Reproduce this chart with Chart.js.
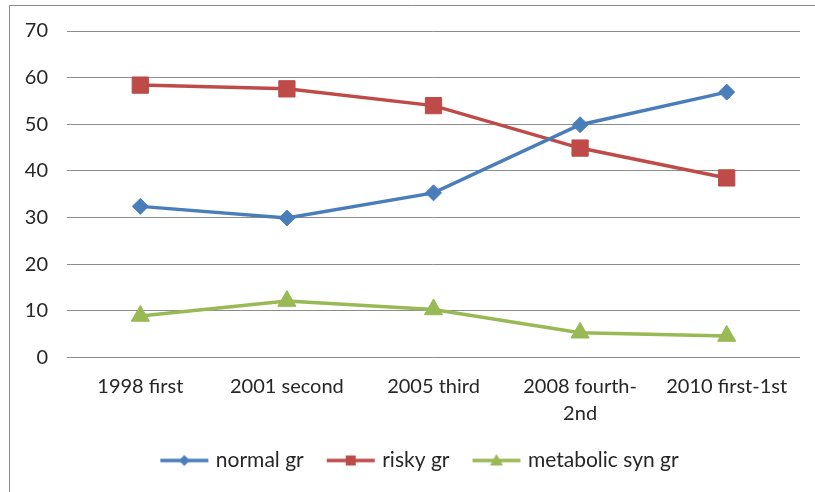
<!DOCTYPE html>
<html>
<head>
<meta charset="utf-8">
<script src="https://cdn.jsdelivr.net/npm/chart.js@4.4.1/dist/chart.umd.min.js"></script>
<style>
  html, body { margin: 0; padding: 0; background: #fff; }
  #wrap { position: absolute; left: 0; top: 0; width: 815px; height: 492px; }
</style>
</head>
<body>
<div id="wrap"><canvas id="chart1"></canvas></div>
<script>
// data
const categories = [['1998 first'], ['2001 second'], ['2005 third'], ['2008 fourth-', '2nd'], ['2010 first-1st']];
const normalGr = [32.4, 29.9, 35.3, 49.9, 56.9];
const riskyGr = [58.4, 57.6, 54.0, 44.9, 38.5];
const metabolicGr = [8.9, 12.1, 10.3, 5.3, 4.6];
const seriesNames = ['normal gr', 'risky gr', 'metabolic syn gr'];
const yTicks = [0, 10, 20, 30, 40, 50, 60, 70];

const BLUE = '#4a7ebb';
const RED = '#be4b48';
const GREEN = '#98b954';
const TEXT = '#262626';
const GRID = '#8c8c8c';

// little legend picture: line with the marker in the middle
function legendIcon(color, shape) {
    const c = document.createElement('canvas');
    c.width = 54;
    c.height = 16;
    const g = c.getContext('2d');
    g.strokeStyle = color;
    g.fillStyle = color;
    g.lineWidth = 3.5;
    g.beginPath();
    g.moveTo(3, 8);
    g.lineTo(51, 8);
    g.stroke();
    g.beginPath();
    if (shape === 'diamond') {
        g.moveTo(27, 2.5); g.lineTo(32.5, 8); g.lineTo(27, 13.5); g.lineTo(21.5, 8);
    } else if (shape === 'square') {
        g.rect(22, 3, 10, 10);
    } else {
        g.moveTo(27, 1.5); g.lineTo(33.5, 13); g.lineTo(20.5, 13);
    }
    g.closePath();
    g.fill();
    return c;
}

const icons = [legendIcon(BLUE, 'diamond'), legendIcon(RED, 'square'), legendIcon(GREEN, 'triangle')];

// outer frame, only top and left edges show in the picture
const framePlugin = {
    id: 'frame',
    beforeDraw(chart) {
        const ctx = chart.ctx;
        ctx.save();
        ctx.strokeStyle = '#8a8a8a';
        ctx.lineWidth = 1;
        ctx.beginPath();
        ctx.moveTo(9.5, 492);
        ctx.lineTo(9.5, 5.5);
        ctx.lineTo(815, 5.5);
        ctx.stroke();
        ctx.restore();
    }
};

// the legend sits a bit right of the middle
const legendShift = {
    id: 'legendShift',
    afterLayout(chart) {
        chart.legend.left += 21;
        chart.legend.right += 21;
    }
};

Chart.defaults.font.family = 'Lato, "Open Sans", sans-serif';
Chart.defaults.font.size = 20;
Chart.defaults.color = TEXT;

const ctx = document.getElementById('chart1').getContext('2d');
const myChart = new Chart(ctx, {
    type: 'line',
    data: {
        labels: categories,
        datasets: [{
            label: seriesNames[0],
            data: normalGr,
            borderColor: BLUE,
            backgroundColor: BLUE,
            borderWidth: 3.5,
            pointStyle: 'rectRot',
            pointRadius: 8,
            pointBorderWidth: 1,
            tension: 0
        }, {
            label: seriesNames[1],
            data: riskyGr,
            borderColor: RED,
            backgroundColor: RED,
            borderWidth: 3.5,
            pointStyle: 'rect',
            pointRadius: 11.5,
            pointBorderWidth: 1,
            tension: 0
        }, {
            label: seriesNames[2],
            data: metabolicGr,
            borderColor: GREEN,
            backgroundColor: GREEN,
            borderWidth: 3.5,
            pointStyle: 'triangle',
            pointRadius: 10.5,
            pointBorderWidth: 1,
            tension: 0
        }]
    },
    options: {
        responsive: true,
        maintainAspectRatio: false,
        animation: false,
        layout: {
            padding: { left: 0, right: 15, top: 29, bottom: 11 }
        },
        scales: {
            x: {
                offset: true,
                grid: { display: false, drawTicks: false },
                border: { display: false },
                ticks: {
                    padding: 16,
                    maxRotation: 0,
                    autoSkip: false,
                    font: { lineHeight: 1.35 }
                },
                afterFit: (scale) => { scale.height = 66.5; }
            },
            y: {
                min: 0,
                max: 70,
                afterBuildTicks: (scale) => { scale.ticks = yTicks.map(v => ({ value: v })); },
                grid: { color: GRID, lineWidth: 1, drawTicks: false },
                border: { display: false },
                ticks: { padding: 19 },
                afterFit: (scale) => { scale.width = 67; }
            }
        },
        plugins: {
            tooltip: { enabled: false },
            legend: {
                position: 'bottom',
                labels: {
                    usePointStyle: true,
                    pointStyleWidth: 42,
                    padding: 26,
                    color: TEXT,
                    font: { size: 21 },
                    generateLabels: (chart) => chart.data.datasets.map((ds, i) => ({
                        text: ds.label,
                        pointStyle: icons[i],
                        fillStyle: ds.backgroundColor,
                        strokeStyle: ds.borderColor,
                        lineWidth: 0,
                        fontColor: TEXT,
                        hidden: false,
                        datasetIndex: i
                    }))
                }
            }
        }
    },
    plugins: [framePlugin, legendShift]
});
</script>
</body>
</html>
